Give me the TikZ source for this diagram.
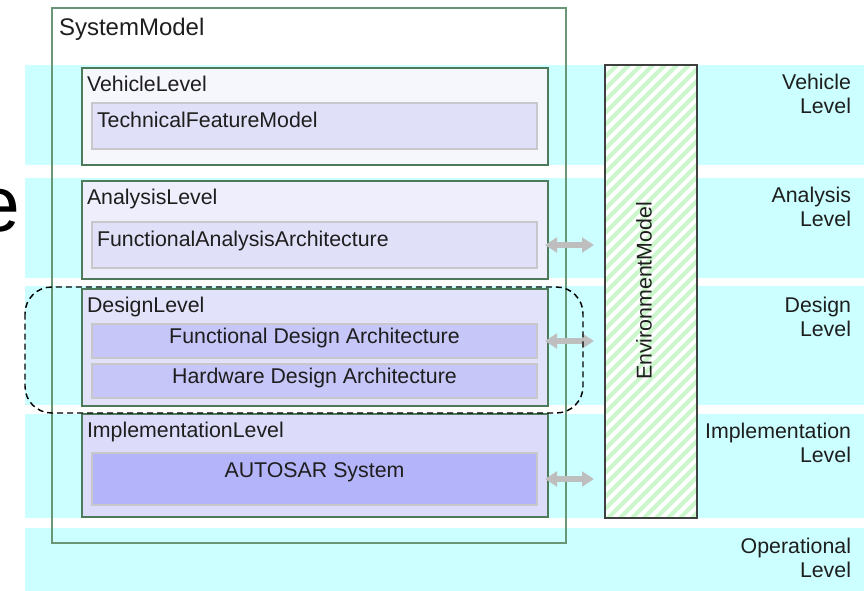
\documentclass[tikz,border=0pt]{standalone}
\usepackage{fontspec}
\setmainfont{Liberation Sans}
\usetikzlibrary{fit,arrows.meta}

\definecolor{bandcyan}{RGB}{204,255,255}
\definecolor{sysgreen}{RGB}{104,150,118}
\definecolor{lvlgreen}{RGB}{76,122,90}
\definecolor{innergray}{RGB}{200,200,204}
\definecolor{vehfill}{RGB}{246,246,253}
\definecolor{anafill}{RGB}{238,238,252}
\definecolor{desfill}{RGB}{226,226,250}
\definecolor{impfill}{RGB}{220,220,250}
\definecolor{featfill}{RGB}{224,224,248}
\definecolor{archfill}{RGB}{198,198,248}
\definecolor{autofill}{RGB}{180,180,250}
\definecolor{hatchgreen}{RGB}{204,246,204}
\definecolor{envgray}{RGB}{64,64,64}
\definecolor{arrowgray}{RGB}{190,190,190}
\definecolor{txtcol}{RGB}{30,30,30}

\tikzset{
  every node/.style={outer sep=0pt},
  band/.style={fill=bandcyan, draw=none, inner sep=0pt},
  sysbox/.style={draw=sysgreen, line width=1.5pt, inner sep=0pt},
  lvlbox/.style={draw=lvlgreen, line width=1.5pt, inner sep=0pt},
  innerbox/.style={draw=innergray, line width=1.1pt, inner sep=0pt},
  envbox/.style={draw=none, inner sep=0pt},
  hatch/.style={draw=hatchgreen, line width=3pt},
  lvltext/.style={font=\fontsize{16}{18}\selectfont, text=txtcol, inner sep=0pt, anchor=base west},
  sidetext/.style={font=\fontsize{16}{18}\selectfont, text=txtcol, inner sep=0pt, align=right, anchor=north east},
  biarrow/.style={draw=arrowgray, line width=4.5pt,
    {Triangle[length=9pt,width=11pt]}-{Triangle[length=9pt,width=11pt]},
    shorten <=-2.25pt, shorten >=8.25pt},
  groupframe/.style={draw=black, line width=1.1pt, dash pattern=on 4.5pt off 3pt, rounded corners=20pt}
}

\begin{document}
\begin{tikzpicture}[x=0.75pt,y=-0.75pt]
  \useasboundingbox (0,0) rectangle (864,591);

  % level bands
  \node[band, fit={(25,65) (864,165)}] (vband) {};
  \node[band, fit={(25,178) (864,278)}] (aband) {};
  \node[band, fit={(25,286) (864,405)}] (dband) {};
  \node[band, fit={(25,414) (864,518)}] (iband) {};
  \node[band, fit={(25,528) (864,591)}] (oband) {};

  % system model and its levels
  \node[sysbox, fit={(52,8) (566,543)}] (system) {};
  \node[lvlbox, fill=vehfill, fit={(82,68) (548,165)}] (vehicle) {};
  \node[innerbox, fill=featfill, fit={(92,103) (537,149)}] (tfm) {};
  \node[lvlbox, fill=anafill, fit={(82,181) (548,279)}] (analysis) {};
  \node[innerbox, fill=featfill, fit={(92,222) (537,268)}] (faa) {};
  \node[lvlbox, fill=desfill, fit={(82,289) (548,406)}] (design) {};
  \node[innerbox, fill=archfill, fit={(92,324) (537,358)}] (fda) {};
  \node[innerbox, fill=archfill, fit={(92,364) (537,398)}] (hda) {};
  \node[lvlbox, fill=impfill, fit={(82,414) (548,517)}] (impl) {};
  \node[innerbox, fill=autofill, fit={(92,453) (537,505)}] (autosar) {};

  % environment model
  \node[envbox, fill=white, fit={(605,65) (697,518)}] (env) {};
  \begin{scope}
    \clip (env.south west) rectangle (env.north east);
    \foreach \k in {140,152,...,704}
      \draw[hatch] (\k,518) -- ++(453,-453);
  \end{scope}
  \draw[draw=envgray, line width=1.5pt] (env.south west) rectangle (env.north east);
  \node[rotate=90, font=\fontsize{16}{18}\selectfont, text=txtcol, inner sep=0pt] (envtext) at (644,291) {EnvironmentModel};

  % exchange arrows
  \draw[biarrow] (faa.east -| analysis.east) -- (faa.east -| env.west);
  \draw[biarrow] (fda.east -| design.east) -- (fda.east -| env.west);
  \draw[biarrow] (autosar.east -| impl.east) -- (autosar.east -| env.west);

  % design level grouping
  \draw[groupframe] (25,287) rectangle (583,413);

  % texts
  \node[lvltext, font=\fontsize{18}{20}\selectfont] (systext) at ([shift={(7,28)}]system.north west) {SystemModel};
  \node[lvltext] (vehtext) at ([shift={(5,24)}]vehicle.north west) {VehicleLevel};
  \node[lvltext] (tfmtext) at ([shift={(5,25)}]tfm.north west) {TechnicalFeatureModel};
  \node[lvltext] (anatext) at ([shift={(5,24)}]analysis.north west) {AnalysisLevel};
  \node[lvltext] (faatext) at ([shift={(5,25)}]faa.north west) {FunctionalAnalysisArchitecture};
  \node[lvltext] (destext) at ([shift={(5,24)}]design.north west) {DesignLevel};
  \node[lvltext, anchor=base] (fdatext) at ([shift={(0,20)}]fda.north) {Functional Design Architecture};
  \node[lvltext, anchor=base] (hdatext) at ([shift={(0,20)}]hda.north) {Hardware Design Architecture};
  \node[lvltext] (imptext) at ([shift={(5,24)}]impl.north west) {ImplementationLevel};
  \node[lvltext, anchor=base] (autotext) at ([shift={(0,25)}]autosar.north) {AUTOSAR System};

  \node[sidetext] (vside) at ([shift={(-13,9)}]vband.north east) {Vehicle\\Level};
  \node[sidetext] (aside) at ([shift={(-13,9)}]aband.north east) {Analysis\\Level};
  \node[sidetext] (dside) at ([shift={(-13,11)}]dband.north east) {Design\\Level};
  \node[sidetext] (iside) at ([shift={(-13,9)}]iband.north east) {Implementation\\Level};
  \node[sidetext] (oside) at ([shift={(-13,10)}]oband.north east) {Operational\\Level};

  % cut-off letter at the left edge
  \node[font=\fontsize{59}{60}\selectfont, text=black, inner sep=0pt, anchor=base east] (etail) at (20,232) {e};
\end{tikzpicture}
\end{document}
